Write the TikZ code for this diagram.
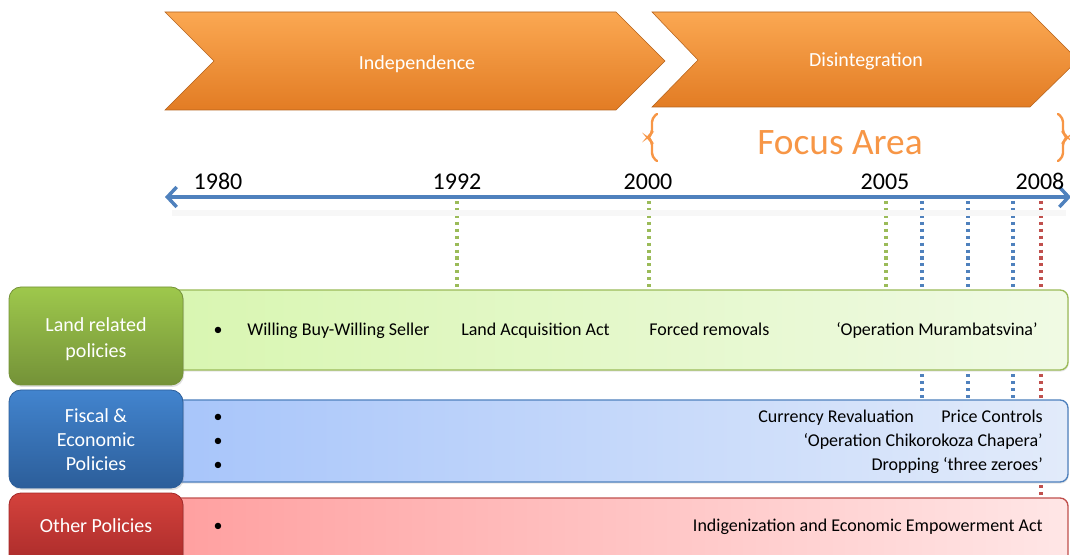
\documentclass[tikz,border=0pt]{standalone}
\usepackage{fontspec}
\setmainfont{Carlito}
\usetikzlibrary{arrows.meta,shadows}
\definecolor{orA}{RGB}{251,168,82}
\definecolor{orB}{RGB}{226,124,36}
\definecolor{orT}{RGB}{247,150,70}
\definecolor{grT}{RGB}{158,200,76}
\definecolor{grB}{RGB}{116,146,56}
\definecolor{grL}{RGB}{216,246,176}
\definecolor{grR}{RGB}{240,250,228}
\definecolor{grE}{RGB}{155,187,89}
\definecolor{blT}{RGB}{66,132,206}
\definecolor{blB}{RGB}{44,94,154}
\definecolor{blL}{RGB}{166,196,250}
\definecolor{blR}{RGB}{226,235,250}
\definecolor{blE}{RGB}{79,129,189}
\definecolor{rdT}{RGB}{212,66,60}
\definecolor{rdB}{RGB}{164,40,40}
\definecolor{rdL}{RGB}{255,158,158}
\definecolor{rdR}{RGB}{255,230,230}
\definecolor{rdE}{RGB}{192,80,77}
\tikzset{
  chev/.style={top color=orA,bottom color=orB,draw=orB!80!black,line width=0.4pt},
  chevtxt/.style={text=white,font=\fontsize{15}{18}\selectfont,anchor=base,inner sep=0pt},
  year/.style={font=\fontsize{18}{20}\selectfont,inner sep=0pt,anchor=base},
  labbox/.style={rounded corners=9pt,line width=0.6pt,drop shadow={opacity=0.25,shadow xshift=0.8pt,shadow yshift=-1.5pt}},
  labtxt/.style={text=white,font=\fontsize{15}{19.5}\selectfont,align=center,inner sep=0pt},
  body/.style={font=\fontsize{13.5}{16}\selectfont,inner sep=0pt},
  vdot/.style={line width=2.3pt,dash pattern=on 2.3pt off 2.9pt},
  brace/.style={draw=orT,line width=1.8pt,rounded corners=3pt,line cap=round}
}
\begin{document}
\begin{tikzpicture}[x=0.75pt,y=-0.75pt]
\useasboundingbox (0,0) rectangle (1070,555);
\clip (0,0) rectangle (1070,555);
% chevrons
\path[chev] (165,12) -- (616,12) -- (665,61) -- (616,110) -- (165,110) -- (214,61) -- cycle;
\node[chevtxt] (indep) at (417,69.5) {Independence};
\path[chev] (652,12) -- (1030,12) -- (1078,60) -- (1030,107) -- (652,107) -- (698,60) -- cycle;
\node[chevtxt] (disint) at (866,66.5) {Disintegration};
% focus area braces
\draw[brace] (657,114) -- (652,118) -- (652,134) -- (647,137.5) -- (652,141) -- (652,157) -- (657,161);
\draw[brace] (1058,114) -- (1063,118) -- (1063,134) -- (1068,137.5) -- (1063,141) -- (1063,157) -- (1058,161);
\node[text=orT,font=\fontsize{28}{30}\selectfont,inner sep=0pt] (focus) at (840,143) {Focus Area};
% dotted verticals
\coordinate (g1t) at (457,201); \coordinate (g1b) at (457,292);
\coordinate (g2t) at (649,201); \coordinate (g2b) at (649,292);
\coordinate (g3t) at (886,201); \coordinate (g3b) at (886,292);
\coordinate (b1t) at (922,201); \coordinate (b1b) at (922,402);
\coordinate (b2t) at (968,201); \coordinate (b2b) at (968,402);
\coordinate (b3t) at (1013,201); \coordinate (b3b) at (1013,402);
\coordinate (r1t) at (1041,201); \coordinate (r1b) at (1041,500);
\draw[vdot,draw=grE] (g1t) -- (g1b);
\draw[vdot,draw=grE] (g2t) -- (g2b);
\draw[vdot,draw=grE] (g3t) -- (g3b);
\draw[vdot,draw=blE] (b1t) -- (b1b);
\draw[vdot,draw=blE] (b2t) -- (b2b);
\draw[vdot,draw=blE] (b3t) -- (b3b);
\draw[vdot,draw=rdE] (r1t) -- (r1b);
% axis
\coordinate (axL) at (165,197);
\coordinate (axR) at (1071,197);
\draw[line width=4pt,draw=black!3] (172,213) -- (1066,213);
\draw[line width=3pt,draw=blE,{Straight Barb[length=7pt,width=15pt,line width=2.6pt]}-{Straight Barb[length=7pt,width=15pt,line width=2.6pt]}] (axL) -- (axR);
\node[year] (y1980) at (218,189.5) {1980};
\node[year] (y1992) at (457,189.5) {1992};
\node[year] (y2000) at (648,189.5) {2000};
\node[year] (y2005) at (885,189.5) {2005};
\node[year] (y2008) at (1040,189.5) {2008};
% row 1 land
\path[left color=grL,right color=grR,draw=grE,line width=1pt,rounded corners=6pt,drop shadow={opacity=0.2,shadow xshift=0.5pt,shadow yshift=-1.2pt}] (150,290) -- (1068,290) -- (1068,370) -- (150,370) -- cycle;
\path[labbox,top color=grT,bottom color=grB,draw=grB] (9,287) rectangle (183,385);
\node[labtxt] (land) at (96,339) {Land related\\policies};
\node[body,anchor=base] (lb1) at (218,336) {•};
\node[body,anchor=base west] (l1) at (247,336) {Willing Buy-Willing Seller};
\node[body,anchor=base west] (l2) at (461,336) {Land Acquisition Act};
\node[body,anchor=base west] (l3) at (649,336) {Forced removals};
\node[body,anchor=base west] (l4) at (836,336) {‘Operation Murambatsvina’};
% row 2 fiscal
\path[left color=blL,right color=blR,draw=blE,line width=1pt,rounded corners=6pt,drop shadow={opacity=0.2,shadow xshift=0.5pt,shadow yshift=-1.2pt}] (150,400) -- (1068,400) -- (1068,482) -- (150,482) -- cycle;
\path[labbox,top color=blT,bottom color=blB,draw=blB] (9,390) rectangle (183,488);
\node[labtxt,font=\fontsize{15}{18}\selectfont] (fiscal) at (96,440) {Fiscal \&\\Economic\\Policies};
\node[body,anchor=base] (fb1) at (218,422) {•};
\node[body,anchor=base] (fb2) at (218,446) {•};
\node[body,anchor=base] (fb3) at (218,470) {•};
\node[body,anchor=base east] (f1) at (914,422) {Currency Revaluation};
\node[body,anchor=base east] (f2) at (1043,422) {Price Controls};
\node[body,anchor=base east] (f3) at (1043,446) {‘Operation Chikorokoza Chapera’};
\node[body,anchor=base east] (f4) at (1043,470) {Dropping ‘three zeroes’};
% row 3 other
\path[left color=rdL,right color=rdR,draw=rdE,line width=1pt,rounded corners=6pt] (150,498) -- (1068,498) -- (1068,570) -- (150,570) -- cycle;
\path[labbox,top color=rdT,bottom color=rdB,draw=rdB] (9,493) rectangle (183,575);
\node[labtxt,anchor=base] (other) at (96,532) {Other Policies};
\node[body,anchor=base] (ob1) at (218,531) {•};
\node[body,anchor=base east] (o1) at (1043,531) {Indigenization and Economic Empowerment Act};
\end{tikzpicture}
\end{document}
